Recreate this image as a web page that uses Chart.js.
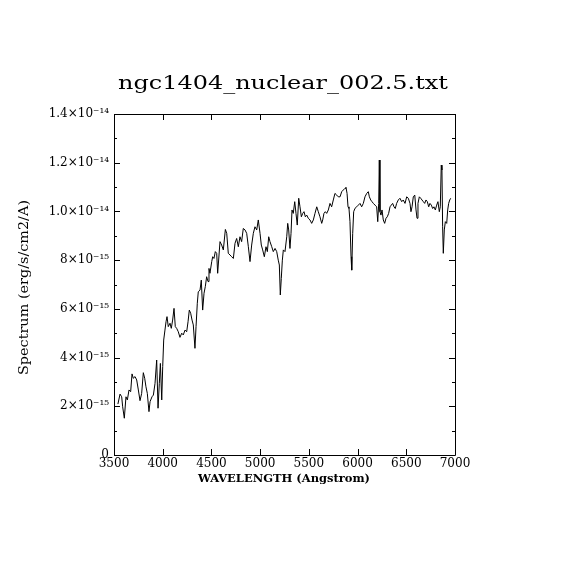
<!DOCTYPE html>
<html>
<head>
<meta charset="utf-8">
<script src="https://cdn.jsdelivr.net/npm/chart.js@4.4.0/dist/chart.umd.min.js"></script>
<style>
html,body{margin:0;padding:0;background:#fff;}
#wrap{width:570px;height:570px;position:relative;}
</style>
</head>
<body>
<div id="wrap"><canvas id="c" width="570" height="570"></canvas></div>
<script>
// Title and axis titles
const chartTitle = 'ngc1404_nuclear_002.5.txt';
const xTitle = 'WAVELENGTH (Angstrom)';
const yTitle = 'Spectrum (erg/s/cm2/A)';

// Tick values and labels
const xTicks = [3500, 4000, 4500, 5000, 5500, 6000, 6500, 7000];
const yTicks = [0, 2, 4, 6, 8, 10, 12, 14];           // units of 1e-15
const yMinorTicks = [1, 3, 5, 7, 9, 11, 13];
const yTickLabels = ['0', '2×10⁻¹⁵', '4×10⁻¹⁵', '6×10⁻¹⁵', '8×10⁻¹⁵', '1.0×10⁻¹⁴', '1.2×10⁻¹⁴', '1.4×10⁻¹⁴'];

// Wavelength (Angstrom)
const wavelength = [
3540,3562,3579,3589,3606,3623,3637,3654,3671,3685,3698,3716,3733,3750,3767,3784,3801,3815,3828,3842,
3859,3870,3890,3904,3921,3938,3952,3965,3976,3990,4000,4010,4023,4034,4044,4057,4075,4088,4102,4116,
4129,4143,4160,4177,4195,4211,4229,4246,4260,4273,4287,4301,4314,4331,4342,4355,4365,4383,4396,4410,
4424,4437,4451,4465,4475,4485,4503,4513,4526,4540,4554,4564,4588,4605,4622,4643,4657,4673,4691,4708,
4725,4742,4759,4776,4793,4810,4827,4845,4862,4879,4896,4913,4930,4947,4965,4981,4999,5012,5026,5043,
5060,5074,5088,5101,5119,5135,5153,5170,5186,5197,5207,5217,5228,5238,5255,5273,5283,5293,5306,5317,
5327,5340,5355,5368,5381,5396,5409,5423,5437,5450,5464,5478,5494,5512,5529,5546,5563,5581,5597,5614,
5632,5642,5655,5669,5683,5700,5717,5734,5751,5768,5786,5802,5820,5837,5854,5871,5881,5892,5902,5912,
5922,5933,5940,5950,5960,5974,5991,6008,6025,6042,6059,6076,6094,6110,6121,6135,6148,6162,6179,6196,
6207,6217,6223,6230,6240,6251,6264,6278,6292,6305,6319,6333,6346,6360,6374,6387,6401,6418,6435,6453,
6469,6487,6504,6521,6538,6548,6559,6572,6587,6600,6610,6620,6634,6648,6661,6675,6689,6702,6716,6730,
6743,6757,6771,6784,6798,6812,6825,6839,6849,6859,6866,6873,6880,6890,6901,6915,6925,6935,6946,6956
];

// Flux in units of 1e-15 erg/s/cm2/A
const flux = [
2.09,2.50,2.39,1.98,1.51,2.39,2.26,2.67,2.60,3.33,3.15,3.22,3.08,2.67,2.23,2.53,3.38,3.15,2.80,2.53,
1.78,2.19,2.39,2.46,2.94,3.90,1.92,2.94,3.76,2.26,3.63,4.72,5.13,5.47,5.68,5.27,5.41,5.20,5.54,6.02,
5.27,5.20,5.06,4.83,5.00,4.93,5.13,5.06,5.47,5.95,5.82,5.54,5.34,4.38,5.27,6.23,6.70,6.77,7.18,5.95,
6.64,6.91,7.32,7.12,7.66,7.46,7.94,8.14,8.07,8.35,8.28,7.46,8.76,8.62,8.42,9.26,9.10,8.28,8.21,8.14,
8.07,8.69,8.89,8.55,8.96,8.76,9.30,9.24,9.10,8.55,7.94,8.62,9.10,9.37,9.24,9.65,9.10,8.62,8.42,8.14,
8.55,8.35,8.96,8.76,8.55,8.35,8.48,8.35,8.00,7.80,6.57,7.25,8.00,8.42,8.35,8.96,9.51,9.24,8.48,9.10,
10.06,9.92,10.40,9.92,9.44,10.54,10.19,9.78,9.92,9.99,9.78,9.85,9.72,9.65,9.51,9.65,9.92,10.19,9.99,9.78,
9.51,9.65,9.92,9.99,9.92,10.06,10.33,10.19,10.47,10.74,10.67,10.60,10.60,10.81,10.88,10.95,10.99,10.74,10.19,10.12,
9.58,8.14,7.59,9.10,9.99,10.13,10.19,10.26,10.33,10.19,10.33,10.60,10.74,10.81,10.60,10.47,10.40,10.33,10.26,10.19,
9.58,10.33,12.11,9.99,9.85,10.06,9.65,9.51,9.72,9.78,9.92,10.19,10.26,10.33,10.19,10.12,10.33,10.47,10.54,10.40,
10.47,10.33,10.60,10.54,10.33,9.99,10.19,10.60,10.67,10.06,9.72,10.33,10.60,10.54,10.47,10.40,10.33,10.47,10.40,10.19,
10.33,10.26,10.12,10.19,10.06,10.26,10.40,9.99,10.19,11.90,11.70,9.37,8.28,9.24,9.58,9.51,10.06,10.33,10.47,10.54
];

const points = wavelength.map((w, i) => ({x: w, y: flux[i]}));

const SERIF = '"DejaVu Serif", "Liberation Serif", serif';

function fitText(ctx, text, x, y, targetWidth) {
  const w = ctx.measureText(text).width;
  const s = targetWidth / w;
  ctx.save();
  ctx.translate(x, y);
  ctx.scale(s, 1);
  ctx.fillText(text, 0, 0);
  ctx.restore();
}

const framePlugin = {
  id: 'frame',
  afterDraw(chart) {
    const ctx = chart.ctx;
    const a = chart.chartArea;
    const xs = chart.scales.x, ys = chart.scales.y;
    ctx.save();
    ctx.strokeStyle = '#000';
    ctx.lineWidth = 1;
    ctx.beginPath();
    ctx.rect(Math.round(a.left) + 0.5, Math.round(a.top) + 0.5, Math.round(a.right - a.left), Math.round(a.bottom - a.top));
    ctx.stroke();
    ctx.beginPath();
    xTicks.forEach(v => {
      const px = Math.round(xs.getPixelForValue(v)) + 0.5;
      ctx.moveTo(px, a.bottom); ctx.lineTo(px, a.bottom - 6);
      ctx.moveTo(px, a.top); ctx.lineTo(px, a.top + 6);
    });
    yTicks.forEach(v => {
      const py = Math.round(ys.getPixelForValue(v)) + 0.5;
      ctx.moveTo(a.left, py); ctx.lineTo(a.left + 6, py);
      ctx.moveTo(a.right, py); ctx.lineTo(a.right - 6, py);
    });
    yMinorTicks.forEach(v => {
      const py = Math.round(ys.getPixelForValue(v)) + 0.5;
      ctx.moveTo(a.left, py); ctx.lineTo(a.left + 3, py);
      ctx.moveTo(a.right, py); ctx.lineTo(a.right - 3, py);
    });
    ctx.stroke();

    ctx.fillStyle = '#000';
    // main title
    ctx.font = '19px ' + SERIF;
    ctx.textBaseline = 'alphabetic';
    ctx.textAlign = 'left';
    fitText(ctx, chartTitle, 118, 89, 330);
    // x title
    ctx.font = 'bold 11px ' + SERIF;
    fitText(ctx, xTitle, 198, 482, 172);
    // y title
    ctx.save();
    ctx.translate(28, 375);
    ctx.rotate(-Math.PI / 2);
    ctx.font = '12px ' + SERIF;
    fitText(ctx, yTitle, 0, 0, 175);
    ctx.restore();
    ctx.restore();
  }
};

new Chart(document.getElementById('c'), {
  type: 'line',
  data: {
    datasets: [{
      data: points,
      borderColor: '#000',
      borderWidth: 1,
      pointRadius: 0,
      tension: 0,
      fill: false
    }]
  },
  options: {
    responsive: false,
    animation: false,
    devicePixelRatio: 1,
    layout: {padding: {left: 0, top: 114, right: 115, bottom: 0}},
    plugins: {legend: {display: false}, tooltip: {enabled: false}, title: {display: false}},
    scales: {
      x: {
        type: 'linear',
        min: 3500, max: 7000,
        afterFit(s) { s.height = 115; },
        afterBuildTicks(s) { s.ticks = xTicks.map(v => ({value: v})); },
        ticks: {
          color: '#000',
          font: {family: SERIF, size: 12},
          padding: 2,
          maxRotation: 0,
          autoSkip: false,
          callback: v => String(v)
        },
        grid: {display: false, drawTicks: false},
        border: {display: false}
      },
      y: {
        type: 'linear',
        min: 0, max: 14,
        afterFit(s) { s.width = 114; },
        afterBuildTicks(s) { s.ticks = yTicks.map(v => ({value: v})); },
        ticks: {
          color: '#000',
          font: {family: SERIF, size: 12},
          padding: 5,
          autoSkip: false,
          callback: (v, i) => yTickLabels[i]
        },
        grid: {display: false, drawTicks: false},
        border: {display: false}
      }
    }
  },
  plugins: [framePlugin]
});
</script>
</body>
</html>
